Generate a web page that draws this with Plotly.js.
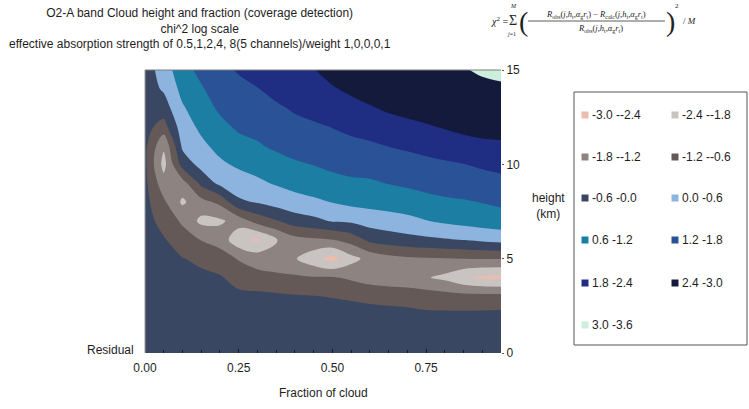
<!DOCTYPE html>
<html>
<head>
<meta charset="utf-8">
<script src="https://cdn.plot.ly/plotly-3.0.1.min.js"></script>
<style>
  html, body { margin: 0; padding: 0; background: #ffffff; }
  #chart { width: 749px; height: 409px; }
</style>
</head>
<body>
<div id="chart"></div>
<script>
// Cloud fraction (x categories) and cloud height in km (y)
const fractions = [0.00, 0.05, 0.10, 0.15, 0.20, 0.25, 0.30, 0.35, 0.40, 0.45,
                   0.50, 0.55, 0.60, 0.65, 0.70, 0.75, 0.80, 0.85, 0.90, 0.95];
const heights = [0, 1, 2, 3, 4, 5, 6, 7, 8, 9, 10, 11, 12, 13, 14, 15];

// log10 chi^2 residual, one list per height, one value per cloud fraction
const residualAt0km  = [-0.28,-0.30,-0.30,-0.30,-0.32,-0.33,-0.33,-0.33,-0.33,-0.32,-0.30,-0.32,-0.33,-0.33,-0.33,-0.32,-0.32,-0.32,-0.31,-0.30];
const residualAt1km  = [-0.28,-0.32,-0.33,-0.35,-0.35,-0.38,-0.36,-0.37,-0.37,-0.36,-0.35,-0.36,-0.38,-0.37,-0.38,-0.37,-0.37,-0.36,-0.36,-0.35];
const residualAt2km  = [-0.30,-0.35,-0.36,-0.38,-0.40,-0.42,-0.40,-0.42,-0.42,-0.42,-0.40,-0.45,-0.45,-0.45,-0.45,-0.48,-0.48,-0.47,-0.46,-0.45];
const residualAt3km  = [-0.30,-0.38,-0.40,-0.42,-0.45,-0.48,-0.45,-0.50,-0.55,-0.58,-0.62,-0.65,-0.70,-0.75,-0.80,-0.90,-0.95,-1.00,-1.00,-1.00];
const residualAt4km  = [-0.32,-0.40,-0.45,-0.50,-0.55,-0.80,-1.00,-1.05,-1.10,-1.15,-1.15,-1.30,-1.50,-1.60,-1.65,-1.75,-1.95,-2.30,-2.50,-2.55];
const residualAt5km  = [-0.33,-0.45,-0.58,-0.70,-0.90,-1.25,-1.45,-1.60,-1.75,-2.20,-2.60,-2.00,-1.60,-1.40,-1.30,-1.25,-1.22,-1.20,-1.18,-1.17];
const residualAt6km  = [-0.35,-0.55,-0.90,-1.22,-1.45,-2.20,-2.50,-1.85,-1.40,-1.30,-1.22,-0.95,-0.45,-0.30,-0.20,-0.12,-0.05,0.02,0.12,0.20];
const residualAt7km  = [-0.38,-0.80,-1.30,-1.95,-1.90,-1.55,-0.95,-0.65,-0.30,-0.15,0.05,0.10,0.25,0.35,0.45,0.58,0.70,0.80,0.88,0.95];
const residualAt8km  = [-0.42,-1.10,-1.90,-1.40,-1.05,-0.10,0.05,0.25,0.40,0.50,0.62,0.75,0.80,0.85,0.90,1.00,1.10,1.15,1.22,1.30];
const residualAt9km  = [-0.45,-1.55,-1.45,-0.45,0.15,0.32,0.50,0.65,0.78,0.88,0.98,1.10,1.12,1.22,1.30,1.40,1.45,1.50,1.58,1.65];
const residualAt10km = [-0.48,-2.00,-0.35,0.20,0.50,0.70,0.80,1.00,1.12,1.22,1.35,1.40,1.45,1.50,1.58,1.65,1.72,1.79,1.88,1.95];
const residualAt11km = [-0.45,-1.70,0.12,0.48,0.78,1.00,1.15,1.30,1.45,1.50,1.60,1.65,1.72,1.82,1.90,2.00,2.10,2.20,2.28,2.30];
const residualAt12km = [-0.40,-0.83,0.33,0.72,1.04,1.30,1.35,1.50,1.65,1.72,1.82,1.95,2.05,2.15,2.25,2.35,2.45,2.55,2.60,2.65];
const residualAt13km = [-0.35,-0.28,0.54,0.93,1.30,1.45,1.60,1.72,1.87,2.00,2.05,2.20,2.35,2.50,2.60,2.65,2.70,2.75,2.80,2.85];
const residualAt14km = [-0.30,0.08,0.78,1.14,1.50,1.65,1.78,1.97,2.10,2.22,2.35,2.52,2.68,2.75,2.80,2.84,2.87,2.90,2.93,2.95];
const residualAt15km = [-0.30,0.27,1.00,1.35,1.65,1.85,2.00,2.15,2.25,2.38,2.60,2.75,2.85,2.90,2.92,2.94,2.96,2.98,3.04,3.08];

// Contour bands and their legend labels
const bandStart = -3.0, bandEnd = 3.6, bandSize = 0.6;
const bandLabels = ['-3.0 --2.4', '-2.4 --1.8', '-1.8 --1.2', '-1.2 --0.6', '-0.6 -0.0', '0.0 -0.6',
                    '0.6 -1.2', '1.2 -1.8', '1.8 -2.4', '2.4 -3.0', '3.0 -3.6'];
const xTickVals = [0, 0.25, 0.5, 0.75];
const xTickText = ['0.00', '0.25', '0.50', '0.75'];
const yTickVals = [0, 5, 10, 15];
const yTickText = ['0', '5', '10', '15'];
const titleLines = ['O2-A band Cloud height and fraction (coverage detection)',
                    'chi^2 log scale',
                    'effective absorption strength of 0.5,1,2,4, 8(5 channels)/weight 1,0,0,0,1'];

// Fill colour for each band (lowest first)
const bandColors = ['#ecbcae', '#c9c3c2', '#8d8482', '#645957', '#3a4763', '#8db3df',
                    '#1c7ea2', '#2a5296', '#1f2d82', '#131a3c', '#cdeedd'];

const z = [residualAt0km, residualAt1km, residualAt2km, residualAt3km, residualAt4km, residualAt5km,
           residualAt6km, residualAt7km, residualAt8km, residualAt9km, residualAt10km, residualAt11km,
           residualAt12km, residualAt13km, residualAt14km, residualAt15km];

// Plotly maps fill band centres onto nLevels+1 evenly spaced colorscale stops
const nLevels = bandLabels.length + 1;
const scaleColors = [bandColors[0]].concat(bandColors, [bandColors[bandColors.length - 1]]);
const colorscale = scaleColors.map((c, k) => [k / nLevels, c]);

const FONT = 'Liberation Sans, Arial, Helvetica, sans-serif';
const SERIF = 'Liberation Serif, Times New Roman, serif';
const TEXT = '#1e1e1e';

// Plot area in pixels
const W = 749, H = 409;
const L = 145, R = 501, T = 70, B = 353;
const px2x = p => (p - L) / (R - L);
const py2y = p => (B - p) / (B - T);

const trace = {
  type: 'contour',
  x: fractions,
  y: heights,
  z: z,
  autocontour: false,
  contours: { start: bandStart, end: bandEnd, size: bandSize, coloring: 'fill', showlines: false },
  line: { width: 0, smoothing: 1 },
  colorscale: colorscale,
  showscale: false,
  hoverinfo: 'skip'
};

const shapes = [];
const annotations = [];

// Three-line heading
annotations.push({ xref: 'paper', yref: 'paper', x: px2x(200), y: py2y(4), xanchor: 'center', yanchor: 'top',
                   showarrow: false, align: 'center', text: titleLines.join('<br>'),
                   font: { family: FONT, size: 12, color: TEXT } });

// Frame lines on the top and left of the plot
shapes.push({ type: 'line', xref: 'paper', yref: 'paper', x0: 0, x1: 1, y0: 1, y1: 1,
              line: { color: '#7d7d7d', width: 1 } });
shapes.push({ type: 'line', xref: 'paper', yref: 'paper', x0: 0, x1: 0, y0: 0, y1: 1,
              line: { color: '#9a9a9a', width: 1 } });

// Legend box, two columns
shapes.push({ type: 'rect', xref: 'paper', yref: 'paper',
              x0: px2x(574), x1: px2x(747), y0: py2y(92), y1: py2y(345),
              line: { color: '#555555', width: 1 }, fillcolor: 'rgba(0,0,0,0)' });
const rowY = [115, 157, 198, 240, 283, 325];
const colX = [585, 675];
bandLabels.forEach((label, i) => {
  const cx = colX[i % 2];
  const cy = rowY[Math.floor(i / 2)];
  shapes.push({ type: 'rect', xref: 'paper', yref: 'paper',
                x0: px2x(cx - 3.5), x1: px2x(cx + 3.5), y0: py2y(cy + 3.5), y1: py2y(cy - 3.5),
                fillcolor: bandColors[i], line: { width: 0 } });
  annotations.push({ xref: 'paper', yref: 'paper', x: px2x(cx + 5), y: py2y(cy),
                     xanchor: 'left', yanchor: 'middle', showarrow: false, text: label,
                     font: { family: FONT, size: 12, color: TEXT } });
});

// Axis captions
annotations.push({ xref: 'paper', yref: 'paper', x: px2x(323), y: py2y(393), xanchor: 'center', yanchor: 'middle',
                   showarrow: false, text: 'Fraction of cloud', font: { family: FONT, size: 12, color: TEXT } });
annotations.push({ xref: 'paper', yref: 'paper', x: px2x(548), y: py2y(206), xanchor: 'center', yanchor: 'middle',
                   showarrow: false, text: 'height<br>(km)', font: { family: FONT, size: 12, color: TEXT } });
annotations.push({ xref: 'paper', yref: 'paper', x: px2x(136), y: py2y(350), xanchor: 'right', yanchor: 'middle',
                   showarrow: false, text: 'Residual', font: { family: FONT, size: 12, color: TEXT } });

// Chi-square definition
const args = '(<i>j</i>,<i>h</i><sub>t</sub>,<i>α</i><sub>g</sub><i>r</i><sub>t</sub>)';
const fSize = 8.5;
const fAnn = (px, py, text, size, anchor) => annotations.push({
  xref: 'paper', yref: 'paper', x: px2x(px), y: py2y(py), xanchor: anchor || 'left', yanchor: 'middle',
  showarrow: false, borderpad: 0, text: text, font: { family: SERIF, size: size, color: '#222222' } });
fAnn(490, 21, '<i>χ</i><sup>2</sup> =', 10);
fAnn(513, 20, 'Σ', 14, 'center');
fAnn(513, 6, '<i>M</i>', 6, 'center');
fAnn(511, 34, '<i>j</i>=1', 6, 'center');
fAnn(523, 21, '(', 28, 'center');
fAnn(596, 15, '<i>R</i><sub>obs</sub>' + args + ' − <i>R</i><sub>calc</sub>' + args, fSize, 'center');
fAnn(600, 28, '<i>R</i><sub>obs</sub>' + args, fSize, 'center');
fAnn(670, 21, ')', 28, 'center');
fAnn(677, 6, '2', 7, 'center');
fAnn(682, 21, '/ <i>M</i>', 9);
shapes.push({ type: 'line', xref: 'paper', yref: 'paper', x0: px2x(528), x1: px2x(665), y0: py2y(21), y1: py2y(21),
              line: { color: '#333333', width: 0.8 } });

const layout = {
  width: W, height: H,
  margin: { l: L, r: W - R, t: T, b: H - B, pad: 0 },
  paper_bgcolor: '#ffffff',
  plot_bgcolor: '#ffffff',
  showlegend: false,
  xaxis: {
    range: [0, 0.95], tickmode: 'array', tickvals: xTickVals, ticktext: xTickText,
    ticks: 'inside', ticklen: 4, tickcolor: '#1a1a1a', tickwidth: 1, ticklabelstandoff: 6,
    minor: { dtick: 0.05, tick0: 0, ticks: 'inside', ticklen: 3, tickcolor: '#1a1a1a' },
    showgrid: false, zeroline: false, showline: false,
    tickfont: { family: FONT, size: 12, color: TEXT }, fixedrange: true
  },
  yaxis: {
    side: 'right', range: [0, 15], tickmode: 'array', tickvals: yTickVals, ticktext: yTickText,
    ticks: 'outside', ticklen: 2, tickcolor: '#555555',
    showgrid: false, zeroline: false, showline: false,
    tickfont: { family: FONT, size: 12, color: TEXT }, fixedrange: true
  },
  shapes: shapes,
  annotations: annotations
};

Plotly.newPlot('chart', [trace], layout, { displayModeBar: false, staticPlot: true });
</script>
</body>
</html>
